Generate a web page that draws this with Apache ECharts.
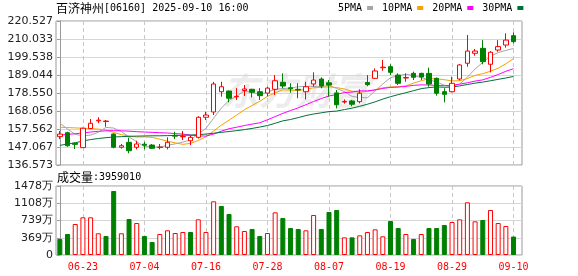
<!DOCTYPE html>
<html><head><meta charset="utf-8">
<script src="https://cdn.jsdelivr.net/npm/echarts@6/dist/echarts.min.js"></script>
<style>html,body{margin:0;padding:0;background:#fff}#c{width:578px;height:276px}</style>
</head><body><div id="c"></div>
<script>
const stockName = '百济神州';
const stockInfo = '[06160] 2025-09-10 16:00';
const volName = '成交量';
const volInfo = ':3959010';
const dates = ['06-18','06-19','06-20','06-23','06-24','06-25','06-26','06-27','06-30','07-02',
 '07-03','07-04','07-07','07-08','07-09','07-10','07-11','07-14','07-15','07-16',
 '07-17','07-18','07-21','07-22','07-23','07-24','07-25','07-28','07-29','07-30',
 '07-31','08-01','08-04','08-05','08-06','08-07','08-08','08-11','08-12','08-13',
 '08-14','08-15','08-18','08-19','08-20','08-21','08-22','08-25','08-26','08-27',
 '08-28','08-29','09-01','09-02','09-03','09-04','09-05','09-08','09-09','09-10'];
const opens = [153.1,155.4,149.3,146.7,157.8,162.3,161.9,154.6,146.9,149.8,
 146.9,148.7,148.2,146.8,146.9,153.9,153.0,150.7,152.7,164.4,
 167.5,179.3,179.7,176.3,180.0,180.7,179.3,178.5,180.7,184.8,
 181.6,180.7,179.3,183.8,186.7,184.5,178.6,173.3,173.9,173.5,
 184.7,187.1,193.3,193.9,189.0,187.3,190.0,190.0,190.0,187.1,
 179.3,179.3,186.7,195.9,201.7,204.6,195.3,203.6,206.5,212.0];
const closes = [154.6,147.8,148.6,158.0,160.9,162.7,162.2,146.9,147.8,144.9,
 148.8,148.1,146.3,147.0,149.8,153.4,153.2,152.7,164.4,165.7,
 183.8,182.2,175.5,176.6,180.9,179.0,177.0,181.4,185.7,182.6,
 181.0,180.3,182.2,186.1,182.6,183.2,171.7,173.6,172.0,178.4,
 183.4,191.4,193.6,190.6,184.2,187.6,187.7,187.9,183.8,178.4,
 177.8,184.2,194.9,203.0,203.0,196.8,202.3,205.6,209.4,208.5];
const lows = [151.7,147.2,145.9,146.5,157.5,160.9,158.9,146.3,146.1,143.4,
 145.7,145.7,145.9,145.7,145.7,151.7,151.1,148.2,152.0,162.8,
 165.7,176.4,173.1,174.5,176.8,176.0,174.5,176.6,177.4,181.3,
 178.7,175.5,174.8,182.2,181.3,176.4,169.6,172.3,170.8,172.5,
 182.5,186.7,191.5,189.0,183.2,185.1,186.1,186.1,182.2,177.0,
 173.1,178.9,185.9,193.9,200.3,195.3,190.6,202.6,205.0,207.5];
const highs = [156.4,156.0,149.6,158.3,163.4,164.4,162.8,155.0,148.8,152.5,
 150.7,150.1,148.8,148.8,152.7,156.0,156.4,154.0,165.0,167.6,
 185.0,185.1,180.0,181.4,183.2,181.0,181.4,182.2,189.0,190.0,
 184.2,184.2,185.1,190.6,187.7,186.1,180.3,174.8,174.5,180.7,
 189.0,192.9,197.8,195.3,190.0,190.0,191.0,190.4,193.3,187.6,
 181.3,188.1,195.5,212.4,204.2,209.4,203.0,209.4,213.3,213.9];
const ma5 = [161.0,157.5,154.5,153.5,154.0,155.6,158.5,158.1,156.1,152.9,
 150.1,147.3,147.2,147.0,148.0,148.9,149.9,151.2,154.7,157.9,
 163.9,169.7,174.3,176.7,179.8,178.8,177.8,179.0,180.8,181.1,
 181.5,182.2,182.4,182.4,182.4,182.9,181.2,179.4,176.6,175.8,
 175.8,179.8,183.8,187.5,188.6,189.5,188.7,187.6,186.2,185.0,
 183.1,182.4,183.8,187.7,192.6,196.4,200.0,202.1,203.4,204.5];
const ma10 = [158.6,158.4,158.2,158.0,157.8,157.5,157.0,155.6,154.3,153.4,
 152.9,152.9,152.7,151.6,150.5,149.5,148.6,149.2,150.9,153.0,
 156.4,159.8,162.7,165.7,168.8,171.3,173.7,176.6,178.7,180.4,
 180.2,180.0,180.7,181.6,181.8,182.2,181.7,180.9,179.5,179.1,
 179.4,180.5,181.6,182.1,182.2,182.7,184.3,185.7,186.9,186.8,
 186.3,185.6,185.7,187.0,188.8,189.8,191.2,193.0,195.6,198.6];
const ma20 = [154.0,154.4,154.8,155.3,155.8,156.2,156.5,156.6,156.5,156.3,
 156.0,155.8,155.6,155.4,155.2,154.9,154.6,154.0,153.6,153.4,
 154.6,156.3,157.7,158.6,159.6,160.4,161.2,162.9,164.8,166.7,
 168.3,169.9,171.7,173.6,175.3,176.8,177.7,178.8,179.1,179.8,
 179.8,180.3,181.2,181.8,182.0,182.4,183.0,183.3,183.2,183.0,
 182.8,183.0,183.7,184.5,185.5,186.2,187.7,189.3,191.2,192.7];
const ma30 = [148.0,148.8,149.5,150.6,151.4,152.0,152.5,152.9,153.1,153.3,
 153.4,153.5,153.6,153.6,153.7,153.8,153.9,154.0,154.3,154.6,
 155.1,155.6,156.1,156.6,157.2,157.9,158.7,159.6,160.9,162.3,
 163.1,164.2,165.4,166.3,167.0,167.7,168.0,168.9,169.7,170.8,
 172.0,173.4,175.0,176.4,177.6,178.7,179.9,181.1,181.7,182.1,
 181.9,182.0,182.7,183.5,184.3,184.9,185.7,186.5,187.3,188.2];
const volumes = [343,450,664,807,807,465,407,1371,465,771,
 685,407,278,450,529,471,493,493,764,493,
 1150,1050,878,614,514,557,407,471,914,793,
 578,557,529,857,557,921,964,378,378,421,
 493,550,400,728,578,450,343,450,578,578,
 643,707,764,1129,721,750,964,685,621,395.9];
const volUp = [0,0,1,1,1,1,0,0,1,0, 1,0,0,1,1,1,1,0,1,1,
 1,0,0,1,1,0,0,1,1,0, 0,0,1,1,0,0,0,1,0,1,
 1,1,1,0,0,1,0,1,0,0, 0,1,1,1,1,0,1,1,1,0];
const priceTicks = [136.573,147.067,157.562,168.056,178.550,189.044,199.538,210.033,220.527];
const volTicks = [0,369,739,1108,1478];
const volUnit = '万';
const labelIdx = [3,11,19,27,35,43,51,59];
const maNames = ['5PMA','10PMA','20PMA','30PMA'];
const maColors = ['#a6a6a6','#f5a300','#ff00ff','#00703a'];
const maData = [ma5, ma10, ma20, ma30];

const chart = echarts.init(document.getElementById('c'));
const candleData = dates.map((d,i)=>[i, opens[i], closes[i], lows[i], highs[i]]);
const volData = dates.map((d,i)=>({
  value:[i, volumes[i]],
  itemStyle: volUp[i] ? {color:'#fff', borderColor:'#ff0000', borderWidth:1}
                      : {color:'#008000', borderColor:'#008000', borderWidth:1}
}));
const xBase = {type:'value', min:-0.5, max:60.1, axisLine:{show:false}};
const maSeries = maNames.map((n,k)=>({
  name:n, type:'line', xAxisIndex:0, yAxisIndex:0, showSymbol:false, symbol:'none',
  color: maColors[k], lineStyle:{width:1, color:maColors[k]}, itemStyle:{color:maColors[k]},
  data: maData[k].map((v,i)=>[i,v]), z:2
}));
const richTitle = {
  a:{fontFamily:'Noto Sans CJK SC', fontSize:12, fontWeight:'normal', color:'#000'},
  b:{fontFamily:'DejaVu Sans Mono', fontSize:10, fontWeight:'normal', color:'#000'}
};
const option = {
  animation:false,
  backgroundColor:'#fff',
  title:[
    {text:'{a|'+stockName+'}{b|'+stockInfo+'}', left:56, top:2, padding:0,
     textStyle:{fontWeight:'normal', rich:richTitle}},
    {text:'{a|'+volName+'}{b|'+volInfo+'}', left:57, top:171, padding:0,
     textStyle:{fontWeight:'normal', rich:richTitle}}
  ],
  legend:{data:maNames, left:338, top:3, padding:0, icon:'rect', itemWidth:6, itemHeight:4,
    itemGap:9, align:'right', selectedMode:false,
    textStyle:{fontFamily:'DejaVu Sans Mono', fontSize:10, fontWeight:'normal', color:'#000'}},
  graphic:[{type:'text', left:222, top:72, z:-10, silent:true,
    style:{text:'东方财富', fill:'#ececec', font:'bold italic 37px "Noto Sans CJK SC"'}}],
  grid:[
    {left:56, top:21, width:466, height:144, show:true, borderColor:'#999', borderWidth:1, outerBoundsMode:'none'},
    {left:56, top:186, width:466, height:69, show:true, borderColor:'#999', borderWidth:1, outerBoundsMode:'none'}
  ],
  xAxis:[
    Object.assign({}, xBase, {gridIndex:0, axisTick:{show:false, customValues:labelIdx},
      axisLabel:{show:false}, splitLine:{show:true, lineStyle:{color:'#c8c8c8', type:[4,3]}}}),
    Object.assign({}, xBase, {gridIndex:1, axisTick:{show:false, customValues:labelIdx},
      axisLabel:{show:true, customValues:labelIdx, formatter:v=>dates[v], color:'#ff0000',
        fontFamily:'DejaVu Sans Mono', fontSize:10, margin:7},
      splitLine:{show:true, lineStyle:{color:'#c8c8c8', type:[4,3]}}})
  ],
  yAxis:[
    {gridIndex:0, type:'value', min:priceTicks[0], max:priceTicks[priceTicks.length-1],
     axisLine:{show:true, lineStyle:{color:'#999'}},
     axisTick:{show:true, length:3, customValues:priceTicks, lineStyle:{color:'#999'}},
     axisLabel:{customValues:priceTicks, formatter:v=>v.toFixed(3), fontFamily:'DejaVu Sans',
       fontSize:11, color:'#222', margin:3},
     splitLine:{show:true, lineStyle:{color:'#d6d6d6'}}},
    {gridIndex:1, type:'value', min:0, max:volTicks[volTicks.length-1],
     axisLine:{show:true, lineStyle:{color:'#999'}},
     axisTick:{show:true, length:3, customValues:volTicks, lineStyle:{color:'#999'}},
     axisLabel:{customValues:volTicks, formatter:v=>v===0?'0':v+volUnit, fontFamily:'DejaVu Sans',
       fontSize:11, color:'#222', margin:3},
     splitLine:{show:true, lineStyle:{color:'#d6d6d6'}}}
  ],
  series: maSeries.concat([
    {name:'K', type:'candlestick', xAxisIndex:0, yAxisIndex:0, barWidth:5, z:3,
     itemStyle:{color:'#ffffff', color0:'#008000', borderColor:'#ff0000', borderColor0:'#008000', borderWidth:1},
     data:candleData},
    {name:'VOL', type:'bar', xAxisIndex:1, yAxisIndex:1, barWidth:5, data:volData}
  ])
};
chart.setOption(option);
</script></body></html>
